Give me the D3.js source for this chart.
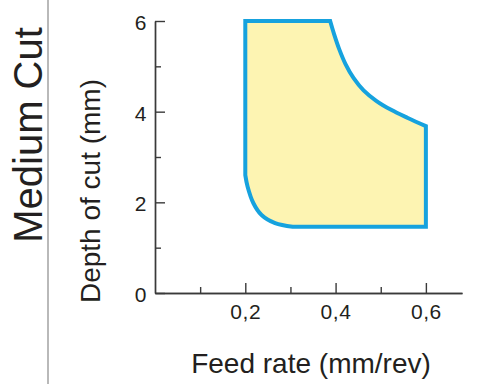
<!DOCTYPE html>
<html lang="en">
<head>
<meta charset="utf-8">
<title>Medium Cut - chip breaker range</title>
<script src="https://d3js.org/d3.v7.min.js"></script>
<style>
  body { margin: 0; background: #fff; }
  text { font-family: "Liberation Sans", Arial, sans-serif; fill: #231f20; }
</style>
</head>
<body>
<script>
// boundary of the application area, [feed (mm/rev), depth (mm)], in drawing order
var leftEdge = [[0.2, 2.6], [0.2, 6], [0.388, 6]];
var topRightCurve = [[0.388, 6], [0.397, 5.70], [0.408, 5.38], [0.422, 5.05], [0.44, 4.74],
                     [0.462, 4.47], [0.49, 4.24], [0.523, 4.04], [0.56, 3.86], [0.6, 3.68]];
var rightEdge = [[0.6, 3.68], [0.6, 1.46], [0.305, 1.46]];
var bottomLeftCurve = [[0.305, 1.46], [0.266, 1.54], [0.236, 1.72], [0.218, 1.98],
                       [0.205, 2.35], [0.2, 2.6]];

var xTicks = [0.2, 0.4, 0.6];
var xMinor = [0.1, 0.3, 0.5];
var yTicks = [0, 2, 4, 6];
var yMinor = [1, 3, 5];

var width = 478, height = 384;

var svg = d3.select("body").append("svg")
    .attr("width", width)
    .attr("height", height);

var x = d3.scaleLinear().domain([0, 0.68]).range([155, 462]);
var y = d3.scaleLinear().domain([0, 6]).range([293, 21]);

// divider
svg.append("line")
    .attr("x1", 48).attr("x2", 48)
    .attr("y1", 0).attr("y2", height)
    .attr("stroke", "#8a8a8a")
    .attr("stroke-width", 1.2);

// area
var straight = d3.line().x(function(d) { return x(d[0]); }).y(function(d) { return y(d[1]); });
var smooth = d3.line().x(function(d) { return x(d[0]); }).y(function(d) { return y(d[1]); })
    .curve(d3.curveCatmullRom.alpha(0.5));

var d = straight(leftEdge)
    + smooth(topRightCurve).replace(/^M/, "L")
    + straight(rightEdge).replace(/^M/, "L")
    + smooth(bottomLeftCurve).replace(/^M/, "L") + "Z";

svg.append("path")
    .attr("d", d)
    .attr("fill", "#fdf4b2")
    .attr("stroke", "#16a2de")
    .attr("stroke-width", 4)
    .attr("stroke-linejoin", "miter");

// axes
function styleAxis(g) {
    g.selectAll("path, line").attr("stroke", "#3a3a3a").attr("stroke-width", 1.4);
    g.selectAll("text")
        .style("font-size", "21px")
        .style("letter-spacing", "0.6px")
        .style("fill", "#231f20")
        .style("font-family", "'Liberation Sans', Arial, sans-serif");
}

svg.append("g")
    .attr("transform", "translate(0," + y(0) + ")")
    .call(d3.axisBottom(x).tickValues(xMinor).tickFormat("").tickSize(-6).tickSizeOuter(0))
    .call(styleAxis);

svg.append("g")
    .attr("transform", "translate(0," + y(0) + ")")
    .call(d3.axisBottom(x).tickValues(xTicks).tickSize(-10).tickSizeOuter(0).tickPadding(11)
        .tickFormat(function(v) { return d3.format(".1f")(v).replace(".", ","); }))
    .call(styleAxis);

svg.append("g")
    .attr("transform", "translate(" + x(0) + ",0)")
    .call(d3.axisLeft(y).tickValues(yMinor).tickFormat("").tickSize(-6).tickSizeOuter(0))
    .call(styleAxis);

svg.append("g")
    .attr("transform", "translate(" + x(0) + ",0)")
    .call(d3.axisLeft(y).tickValues(yTicks).tickSize(-10).tickSizeOuter(0).tickPadding(8)
        .tickFormat(d3.format("d")))
    .call(styleAxis)
    .selectAll("text").attr("dy", "0.4em");

// titles
svg.append("text")
    .attr("x", 311).attr("y", 373)
    .attr("text-anchor", "middle")
    .style("font-size", "28px")
    .text("Feed rate (mm/rev)");

svg.append("text")
    .attr("transform", "translate(100,191) rotate(-90)")
    .attr("text-anchor", "middle")
    .style("font-size", "28px")
    .text("Depth of cut (mm)");

svg.append("text")
    .attr("transform", "translate(42,135) rotate(-90)")
    .attr("text-anchor", "middle")
    .style("font-size", "40px")
    .text("Medium Cut");
</script>
</body>
</html>
